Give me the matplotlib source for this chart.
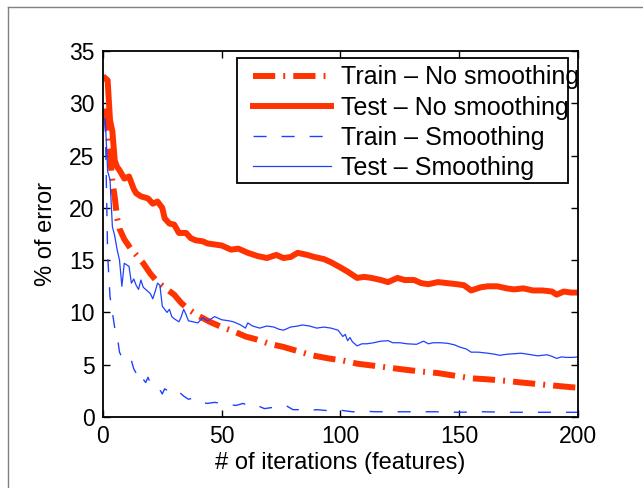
import matplotlib
matplotlib.use('Agg')
import matplotlib.pyplot as plt
from matplotlib.lines import Line2D
from matplotlib.patches import Rectangle

# Test - No smoothing (thick red)
test_ns_x = [1, 2, 3, 4, 5, 6, 7, 9, 11, 13, 14, 16, 19, 21, 23, 25, 26, 28, 30, 32,
             35, 37, 39, 42, 44, 47, 50, 54, 57, 61, 65, 69, 73, 76, 79, 82, 86, 89, 93, 96,
             100, 103, 107, 110, 113, 117, 120, 124, 127, 131, 134, 137, 141, 145, 149, 152, 155, 159, 162, 166,
             170, 173, 177, 181, 185, 189, 191, 194, 197, 200]
test_ns_y = [32.4, 32.2, 28.4, 27.3, 24.5, 23.9, 23.6, 22.8, 23.0, 21.8, 21.4, 21.1, 20.9, 20.4, 20.6, 20.0, 19.0, 18.5, 18.4, 17.6,
             17.6, 17.1, 16.9, 16.8, 16.6, 16.5, 16.4, 16.0, 16.1, 15.7, 15.4, 15.2, 15.5, 15.2, 15.3, 15.7, 15.5, 15.3, 15.1, 14.8,
             14.3, 13.9, 13.3, 13.4, 13.3, 13.1, 12.9, 13.3, 13.1, 13.1, 12.8, 12.7, 12.9, 12.8, 12.7, 12.6, 12.1, 12.4, 12.5, 12.5,
             12.3, 12.2, 12.3, 12.1, 12.1, 12.0, 11.7, 12.0, 11.9, 11.9]

# Train - No smoothing (red dash-dot)
train_ns_x = [1, 2, 3, 4, 5, 6, 7, 9, 12, 14, 17, 20, 23, 27, 30, 33, 36, 40, 45, 50,
              55, 60, 65, 70, 76, 82, 88, 95, 101, 107, 114, 121, 128, 134, 141, 148, 155, 162, 170, 176,
              183, 190, 197, 200]
train_ns_y = [29.5, 27.5, 25.0, 22.5, 21.0, 19.0, 18.0, 17.0, 16.0, 15.5, 14.7, 13.7, 12.9, 12.2, 11.7, 10.9, 10.3, 9.7, 9.1, 8.6,
              8.2, 7.7, 7.4, 7.0, 6.7, 6.3, 5.9, 5.6, 5.4, 5.1, 4.9, 4.7, 4.5, 4.35, 4.2, 3.95, 3.7, 3.6, 3.45, 3.3,
              3.15, 3.0, 2.85, 2.8]

# Test - Smoothing (thin blue)
test_s_x = [1, 2, 3, 4, 5, 6, 7, 8, 9, 11, 12, 13, 14, 15, 16, 17, 18, 20, 21, 22,
            23, 24, 25, 26, 27, 28, 29, 30, 32, 33, 34, 35, 36, 38, 40, 42, 44, 45, 47, 50,
            53, 55, 58, 60, 61, 63, 66, 69, 72, 74, 76, 79, 82, 84, 87, 90, 93, 96, 99, 101,
            102, 103, 104, 105, 106, 107, 109, 111, 114, 117, 120, 122, 125, 128, 132, 135, 137, 139, 142, 145,
            148, 150, 153, 155, 158, 162, 165, 167, 170, 173, 176, 179, 183, 187, 189, 191, 193, 195, 198, 200]
test_s_y = [28.5, 23.5, 22.7, 18.2, 17.3, 16.0, 15.0, 12.5, 14.7, 14.4, 12.8, 13.2, 12.6, 12.2, 13.1, 12.4, 12.2, 11.8, 11.3, 12.0,
            12.8, 12.6, 10.6, 10.3, 10.0, 10.3, 9.6, 9.4, 9.1, 9.6, 10.3, 9.8, 9.2, 9.1, 9.0, 9.5, 9.2, 9.3, 9.6, 9.3,
            9.2, 9.1, 8.8, 8.5, 9.0, 8.7, 8.5, 8.7, 8.6, 8.4, 8.3, 8.6, 8.7, 8.8, 8.7, 8.5, 8.6, 8.5, 8.3, 7.7,
            7.9, 7.3, 7.6, 7.2, 7.0, 6.8, 7.0, 7.0, 7.1, 7.25, 7.3, 7.1, 7.1, 7.0, 6.95, 7.25, 7.0, 7.1, 7.1, 7.05,
            6.9, 6.7, 6.5, 6.2, 6.2, 6.1, 6.0, 5.9, 6.0, 6.05, 6.1, 6.0, 5.85, 5.95, 5.8, 5.6, 5.75, 5.7, 5.7, 5.75]

# Train - Smoothing (blue dashed)
train_s_x = [1, 2, 3, 4, 5, 6, 7, 8, 9, 10, 12, 13, 14, 15, 16, 18, 19, 20, 22, 24,
             25, 26, 28, 30, 32, 34, 36, 38, 41, 44, 47, 50, 53, 56, 59, 62, 65, 68, 71, 74,
             77, 80, 83, 86, 90, 95, 100, 105, 110, 115, 120, 130, 140, 150, 160, 170, 180, 190, 200]
train_s_y = [28.5, 15.5, 11.5, 10.0, 8.5, 7.8, 6.2, 5.7, 5.9, 5.6, 5.4, 4.6, 4.2, 3.6, 3.9, 3.3, 3.8, 3.2, 3.0, 2.6,
             2.2, 2.7, 2.4, 2.2, 2.4, 2.0, 1.7, 1.8, 1.4, 1.3, 1.4, 1.3, 1.2, 1.1, 1.3, 1.0, 1.1, 0.8, 0.9, 1.0,
             1.1, 0.7, 0.7, 0.6, 0.7, 0.6, 0.65, 0.5, 0.55, 0.5, 0.5, 0.5, 0.5, 0.45, 0.5, 0.45, 0.45, 0.45, 0.45]

labels = ['Train \u2013 No smoothing', 'Test \u2013 No smoothing',
          'Train \u2013 Smoothing', 'Test \u2013 Smoothing']

plt.rcParams['font.family'] = ['Liberation Sans', 'DejaVu Sans']
plt.rcParams['font.size'] = 16.5
plt.rcParams['lines.scale_dashes'] = False

red = '#ff3300'
blue = '#2040ff'

fig = plt.figure(figsize=(6.43, 4.88), dpi=100)
ax = fig.add_axes([0.160, 0.1455, 0.739, 0.750])

ax.plot(train_ns_x, train_ns_y, color=red, lw=4.3, linestyle=(0, (16, 5.8, 1.4, 5.8)), label=labels[0])
ax.plot(test_ns_x, test_ns_y, color=red, lw=4.3, solid_joinstyle='round', label=labels[1])
ax.plot(train_s_x, train_s_y, color=blue, lw=1.0, linestyle=(0, (9.4, 10.8)), label=labels[2])
ax.plot(test_s_x, test_s_y, color=blue, lw=0.9, label=labels[3])

ax.set_xlim(0, 200)
ax.set_ylim(0, 35)
ax.set_xticks([0, 50, 100, 150, 200])
ax.set_yticks(range(0, 36, 5))
ax.tick_params(direction='in', top=True, right=True, length=5, width=1, pad=6)
for s in ax.spines.values():
    s.set_linewidth(1.3)
ax.set_xlabel('# of iterations (features)', labelpad=3, fontsize=17)
ax.set_ylabel('% of error', labelpad=9, fontsize=17)

# legend box drawn by hand so the long label may run past it, as in the original
box = Rectangle((0.282, 0.639), 0.697, 0.342, transform=ax.transAxes,
                facecolor='white', edgecolor='black', lw=1.3, zorder=4)
ax.add_patch(box)
leg = ax.legend(loc='upper left', bbox_to_anchor=(0.316, 0.961), borderaxespad=0,
                frameon=False, handlelength=3.1, handletextpad=0.4,
                labelspacing=0.25, borderpad=0, fontsize=18)
leg.set_zorder(5)

# grey page border (top and left)
fig.add_artist(Line2D([0.012, 1.0], [0.986, 0.986], transform=fig.transFigure, color='#808080', lw=1))
fig.add_artist(Line2D([0.012, 0.012], [0.0, 0.986], transform=fig.transFigure, color='#808080', lw=1))

fig.savefig('out.png', dpi=100)
